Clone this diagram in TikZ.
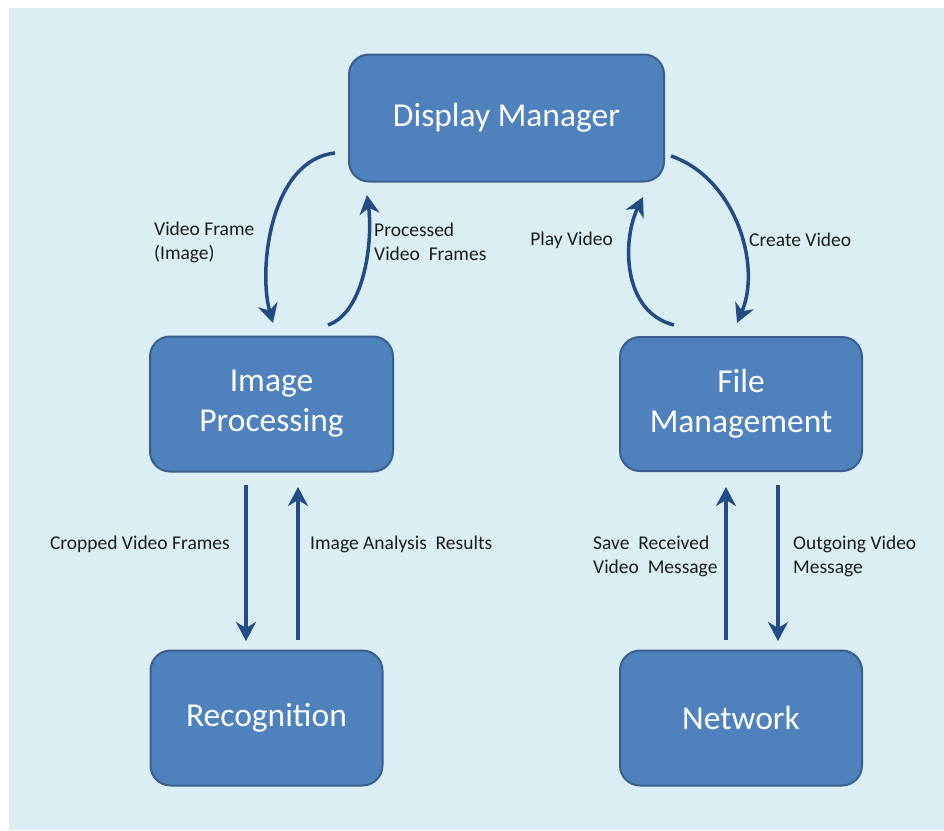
\documentclass[tikz,border=0pt]{standalone}
\usepackage{fontspec}
\setmainfont{Carlito}
\usetikzlibrary{arrows.meta}

\definecolor{bgblue}{HTML}{DBEEF4}
\definecolor{boxblue}{HTML}{4F81BD}
\definecolor{rimblue}{HTML}{3A5F8D}
\definecolor{flowblue}{HTML}{234C82}
\definecolor{labelgray}{HTML}{1C1C1C}

\begin{document}
\begin{tikzpicture}[x=1pt,y=1pt,
  module/.style={
    draw=rimblue, line width=2pt, fill=boxblue,
    rounded corners=20pt, text=white, align=center,
    font=\fontsize{33.5}{40}\selectfont, inner sep=0pt,
  },
  flow/.style={
    draw=flowblue, line width=3.5pt,
    -{Stealth[length=19pt,width=20pt,inset=6pt]},
  },
  note/.style={
    text=labelgray, align=left, inner sep=0pt,
    font=\fontsize{19.5}{24}\selectfont,
  }]
  \useasboundingbox (0,0) rectangle (944,-830);
  \fill[bgblue] (9,-8) rectangle (944,-830);

  % modules
  \node[module, minimum width=315pt, minimum height=127pt] (dm) at (506.5,-118) {Display Manager};
  \node[module, minimum width=243pt, minimum height=135pt] (ip) at (271.5,-404) {Image\\Processing};
  \node[module, minimum width=242pt, minimum height=134pt] (fm) at (741,-404) {File\\Management};
  \node[module, minimum width=232pt, minimum height=135pt] (rec) at (266.5,-718) {Recognition};
  \node[module, minimum width=242pt, minimum height=135pt] (net) at (741,-718) {Network};

  % connector ends
  \coordinate (vfA) at (335,-153);
  \coordinate (vfB) at (273,-323);
  \coordinate (pvA) at (328,-325);
  \coordinate (pvB) at (367,-195);
  \coordinate (plA) at (674,-325);
  \coordinate (plB) at (643,-197);
  \coordinate (cvA) at (671,-156);
  \coordinate (cvB) at (737,-323);
  \coordinate (cfA) at (246,-485);
  \coordinate (cfB) at (246,-641);
  \coordinate (iaA) at (298,-640);
  \coordinate (iaB) at (298,-487);
  \coordinate (srA) at (726,-640);
  \coordinate (srB) at (726,-487);
  \coordinate (ogA) at (778,-485);
  \coordinate (ogB) at (778,-641);

  \draw[flow] (vfA) .. controls (270,-160) and (258,-270) .. (vfB);
  \draw[flow] (pvA) .. controls (365,-312) and (373,-240) .. (pvB);
  \draw[flow] (plA) .. controls (622,-312) and (622,-240) .. (plB);
  \draw[flow] (cvA) .. controls (735,-178) and (762,-265) .. (cvB);
  \draw[flow] (cfA) -- (cfB);
  \draw[flow] (iaA) -- (iaB);
  \draw[flow] (srA) -- (srB);
  \draw[flow] (ogA) -- (ogB);

  % labels
  \node[note, anchor=west] (vfL) at (154,-242) {Video Frame\\(Image)};
  \node[note, anchor=west] (pvL) at (374,-242) {Processed\\Video\ \ Frames};
  \node[note, anchor=east] (plL) at (613,-240) {Play Video};
  \node[note, anchor=west] (cvL) at (749,-240) {Create Video};
  \node[note, anchor=east] (cfL) at (230,-544) {Cropped Video Frames};
  \node[note, anchor=west] (iaL) at (310,-544) {Image Analysis\ \ Results};
  \node[note, anchor=west] (srL) at (593,-556) {Save\ \ Received\\Video\ \ Message};
  \node[note, anchor=west] (ogL) at (793,-556) {Outgoing Video\\Message};
\end{tikzpicture}
\end{document}
